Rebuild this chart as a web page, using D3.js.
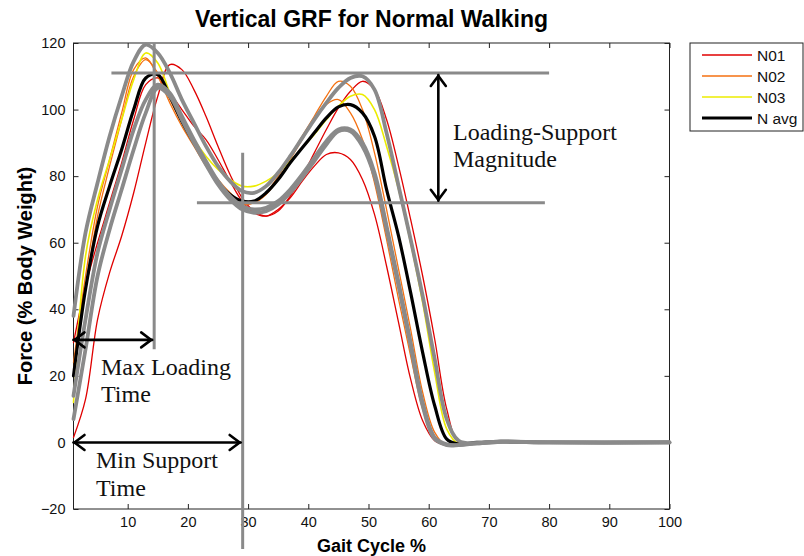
<!DOCTYPE html>
<html>
<head>
<meta charset="utf-8">
<script src="https://cdn.jsdelivr.net/npm/d3@7"></script>
<style>
  html, body { margin: 0; padding: 0; background: #fff; }
  svg { display: block; }
</style>
</head>
<body>
<svg id="chart" width="804" height="556"></svg>
<script>
// ---------------- DATA ----------------
const gaitPct = [1,3,5,7,9,11,13,15,17,19,21,23,25,27,29,31,33,35,37,39,41,43,45,47,49,51,53,55,57,59,61,63,65,68,72,80,100];

const n01a = [1.5,13,37,51,62,75,90,104,113.5,112,106,98,89,80.5,73.5,69.5,68,69.5,74,80,87,94,100.5,105.5,108.5,106,97,83,67,50,31,10,0,-0.3,0.2,0,0];
const n01b = [30,47,60,72,84,97,107.5,109.5,105,100,95,91,85,78.5,72.5,69,68,70,73.5,78.5,83,86.5,87,85,79,68.5,53,36,19,6.5,0.5,-0.8,-0.5,-0.2,0.2,0,0];
const n02a = [24,50,71,85,99,112,115.5,110,102,95,89,83,78,74,71.5,72,75,80,86,92,98,104,108.5,107,100,87,70,52,34,15,3,-1,-0.8,-0.3,0.2,0,0];
const n02b = [22,46,68,83,97,110,115,111,103,96,90,84,79,75,72,72,74.5,79,85,91,97,101.5,103,99,91,78,61,43,26,10,1,-1,-0.8,-0.3,0.2,0,0];
const n03  = [12,56,73,85,97,109,117,114,105,97,91,86,82,79,77,77,78.5,81,84.5,88.5,92.5,97,101,104,104.5,100,89,76,60,42,21,4,-0.5,-0.3,0.2,0,0];
const navg = [20,46,65,77,88,100,109.5,110.5,104,96.5,90,84,78,74.5,72.5,72.5,75,79,84,88.5,93,97.5,100.8,101.5,99,92,76,62,45,27,11,1,-0.5,0,0.2,0,0];
const sdUpper = [38,63,78,92,104,114.5,119.5,117,111,103,96,89,83,78.5,75.5,75,77,81,86,91.5,97,102,106.5,109.5,110,106,93,77,61,44,25,7,0.5,-0.2,0.3,0,0];
const sdMid   = [14,37,57,70,82,94,103,107.5,105,98,91,84.5,78.5,74,71,70,70.5,72.5,76,80.5,85.5,90.5,94,94,90,81,65,48,30,12,1.5,-0.6,-0.8,-0.3,0.2,0,0];
const sdLower = [7,28,50,64,76,88,99,106.5,104,97,90,83.5,77.5,73,70,69,69.5,71.5,75,79.5,84.5,89.5,93.5,93.5,89,80,64,47,29,11,1,-0.8,-0.8,-0.3,0.2,0,0];

const legendNames = ["N01", "N02", "N03", "N avg"];
const xTicks = [10,20,30,40,50,60,70,80,90,100];
const yTicks = [-20,0,20,40,60,80,100,120];

// annotation values
const loadingLevel = 111, supportLevel = 72;
const loadingLineX = [7.3, 80];
const supportLineX = [21.5, 79.3];
const maxLoadX = 14.4, maxLoadTop = 120, maxLoadBottom = 28;
const minSupportX = 29.1, minSupportTop = 87, minSupportBottom = -32;
const maxLoadArrowY = 30.8, minSupportArrowY = 0;
const magnitudeArrowX = 61.6;

// ---------------- LAYOUT ----------------
const svg = d3.select("#chart");
const L = 73.5, R = 669.5, T = 43, B = 509;
const x = d3.scaleLinear().domain([1, 100]).range([L, R]);
const y = d3.scaleLinear().domain([-20, 120]).range([B, T]);
const font = "Arial, 'Liberation Sans', Helvetica, sans-serif";
const serif = "'Times New Roman', 'Liberation Serif', serif";

svg.append("rect").attr("width", 804).attr("height", 556).attr("fill", "#fff");

// axes
const gx = svg.append("g").attr("transform", `translate(0,${B})`)
  .call(d3.axisBottom(x).tickValues(xTicks).tickSize(-5).tickPadding(8).tickFormat(d3.format("d")));
const gxt = svg.append("g").attr("transform", `translate(0,${T})`)
  .call(d3.axisTop(x).tickValues(xTicks).tickSize(-5).tickFormat(""));
const gy = svg.append("g").attr("transform", `translate(${L},0)`)
  .call(d3.axisLeft(y).tickValues(yTicks).tickSize(-5).tickPadding(8).tickFormat(d3.format("d")));
const gyr = svg.append("g").attr("transform", `translate(${R},0)`)
  .call(d3.axisRight(y).tickValues(yTicks).tickSize(-5).tickFormat(""));
[gx, gxt, gy, gyr].forEach(g => {
  g.select(".domain").remove();
  g.selectAll(".tick line").attr("stroke", "#222");
  g.selectAll("text").attr("font-family", font).attr("font-size", "14.5px").attr("fill", "#111");
});
svg.append("rect").attr("x", L).attr("y", T).attr("width", R - L).attr("height", B - T)
  .attr("fill", "none").attr("stroke", "#222").attr("stroke-width", 1);

// lines
const line = d3.line()
  .x((d, i) => x(gaitPct[i]))
  .y(d => y(d))
  .curve(d3.curveCatmullRom.alpha(0.5));

const plotG = svg.append("g");
const series = [
  {v: n01a, c: "#e00000", w: 1.3},
  {v: n01b, c: "#e00000", w: 1.3},
  {v: n02a, c: "#f57010", w: 1.3},
  {v: n02b, c: "#f57010", w: 1.3},
  {v: n03,  c: "#ecec00", w: 1.6},
  {v: navg, c: "#000000", w: 3.2},
  {v: sdMid,   c: "#8a8a8a", w: 3.8},
  {v: sdLower, c: "#8a8a8a", w: 3.8},
  {v: sdUpper, c: "#8a8a8a", w: 3.8}
];
series.forEach(s => {
  plotG.append("path").datum(s.v).attr("d", line)
    .attr("fill", "none").attr("stroke", s.c).attr("stroke-width", s.w)
    .attr("stroke-linejoin", "round").attr("stroke-linecap", "round");
});

// annotation gray lines
const ann = svg.append("g").attr("stroke", "#8a8a8a").attr("stroke-width", 3);
ann.append("line").attr("x1", x(loadingLineX[0])).attr("x2", x(loadingLineX[1]))
  .attr("y1", y(loadingLevel)).attr("y2", y(loadingLevel));
ann.append("line").attr("x1", x(supportLineX[0])).attr("x2", x(supportLineX[1]))
  .attr("y1", y(supportLevel)).attr("y2", y(supportLevel));
ann.append("line").attr("x1", x(maxLoadX)).attr("x2", x(maxLoadX))
  .attr("y1", y(maxLoadTop)).attr("y2", y(maxLoadBottom));
ann.append("line").attr("x1", x(minSupportX)).attr("x2", x(minSupportX))
  .attr("y1", y(minSupportTop)).attr("y2", y(minSupportBottom));

// arrows
const arr = svg.append("g").attr("stroke", "#000").attr("stroke-width", 2.6).attr("fill", "none")
  .attr("stroke-linecap", "round").attr("stroke-linejoin", "miter");
function hArrow(x1, x2, yy) {
  arr.append("line").attr("x1", x1).attr("x2", x2).attr("y1", yy).attr("y2", yy);
  arr.append("path").attr("d", `M${x1 + 11},${yy - 7.5} L${x1 + 1},${yy} L${x1 + 11},${yy + 7.5}`);
  arr.append("path").attr("d", `M${x2 - 11},${yy - 7.5} L${x2 - 1},${yy} L${x2 - 11},${yy + 7.5}`);
}
function vArrow(xx, y1, y2) {
  arr.append("line").attr("x1", xx).attr("x2", xx).attr("y1", y1).attr("y2", y2);
  arr.append("path").attr("d", `M${xx - 7.5},${y1 + 11} L${xx},${y1 + 1} L${xx + 7.5},${y1 + 11}`);
  arr.append("path").attr("d", `M${xx - 7.5},${y2 - 11} L${xx},${y2 - 1} L${xx + 7.5},${y2 - 11}`);
}
hArrow(x(1), x(maxLoadX) - 2, y(maxLoadArrowY));
hArrow(x(1), x(minSupportX) - 2, y(minSupportArrowY));
vArrow(x(magnitudeArrowX), y(loadingLevel) + 2, y(supportLevel) - 2);

// annotation text
const annText = [
  {t: "Max Loading", x: 101, y: 375},
  {t: "Time", x: 101, y: 402},
  {t: "Min Support", x: 96, y: 468},
  {t: "Time", x: 96, y: 496},
  {t: "Loading-Support", x: 453, y: 140},
  {t: "Magnitude", x: 453, y: 167}
];
svg.append("g").selectAll("text").data(annText).join("text")
  .attr("x", d => d.x).attr("y", d => d.y).text(d => d.t)
  .attr("font-family", serif).attr("font-size", "24px").attr("fill", "#111");

// title & labels
svg.append("text").attr("x", (L + R) / 2).attr("y", 27).attr("text-anchor", "middle")
  .attr("font-family", font).attr("font-weight", "bold").attr("font-size", "23px")
  .text("Vertical GRF for Normal Walking");
svg.append("text").attr("x", (L + R) / 2).attr("y", 552).attr("text-anchor", "middle")
  .attr("font-family", font).attr("font-weight", "bold").attr("font-size", "18px")
  .text("Gait Cycle %");
svg.append("text").attr("transform", `translate(32,${(T + B) / 2}) rotate(-90)`).attr("text-anchor", "middle")
  .attr("font-family", font).attr("font-weight", "bold").attr("font-size", "20px")
  .text("Force (% Body Weight)");

// legend
const lg = svg.append("g");
lg.append("rect").attr("x", 690).attr("y", 43).attr("width", 113).attr("height", 88)
  .attr("fill", "#fff").attr("stroke", "#222").attr("stroke-width", 1);
const legendColors = ["#e00000", "#f57010", "#ecec00", "#000000"];
const legendWidths = [1.3, 1.3, 1.6, 3.2];
legendNames.forEach((n, i) => {
  const yy = 55 + i * 21;
  lg.append("line").attr("x1", 702).attr("x2", 752).attr("y1", yy).attr("y2", yy)
    .attr("stroke", legendColors[i]).attr("stroke-width", legendWidths[i]);
  lg.append("text").attr("x", 757).attr("y", yy + 5.5).text(n)
    .attr("font-family", font).attr("font-size", "15.5px").attr("fill", "#111");
});
</script>
</body>
</html>
